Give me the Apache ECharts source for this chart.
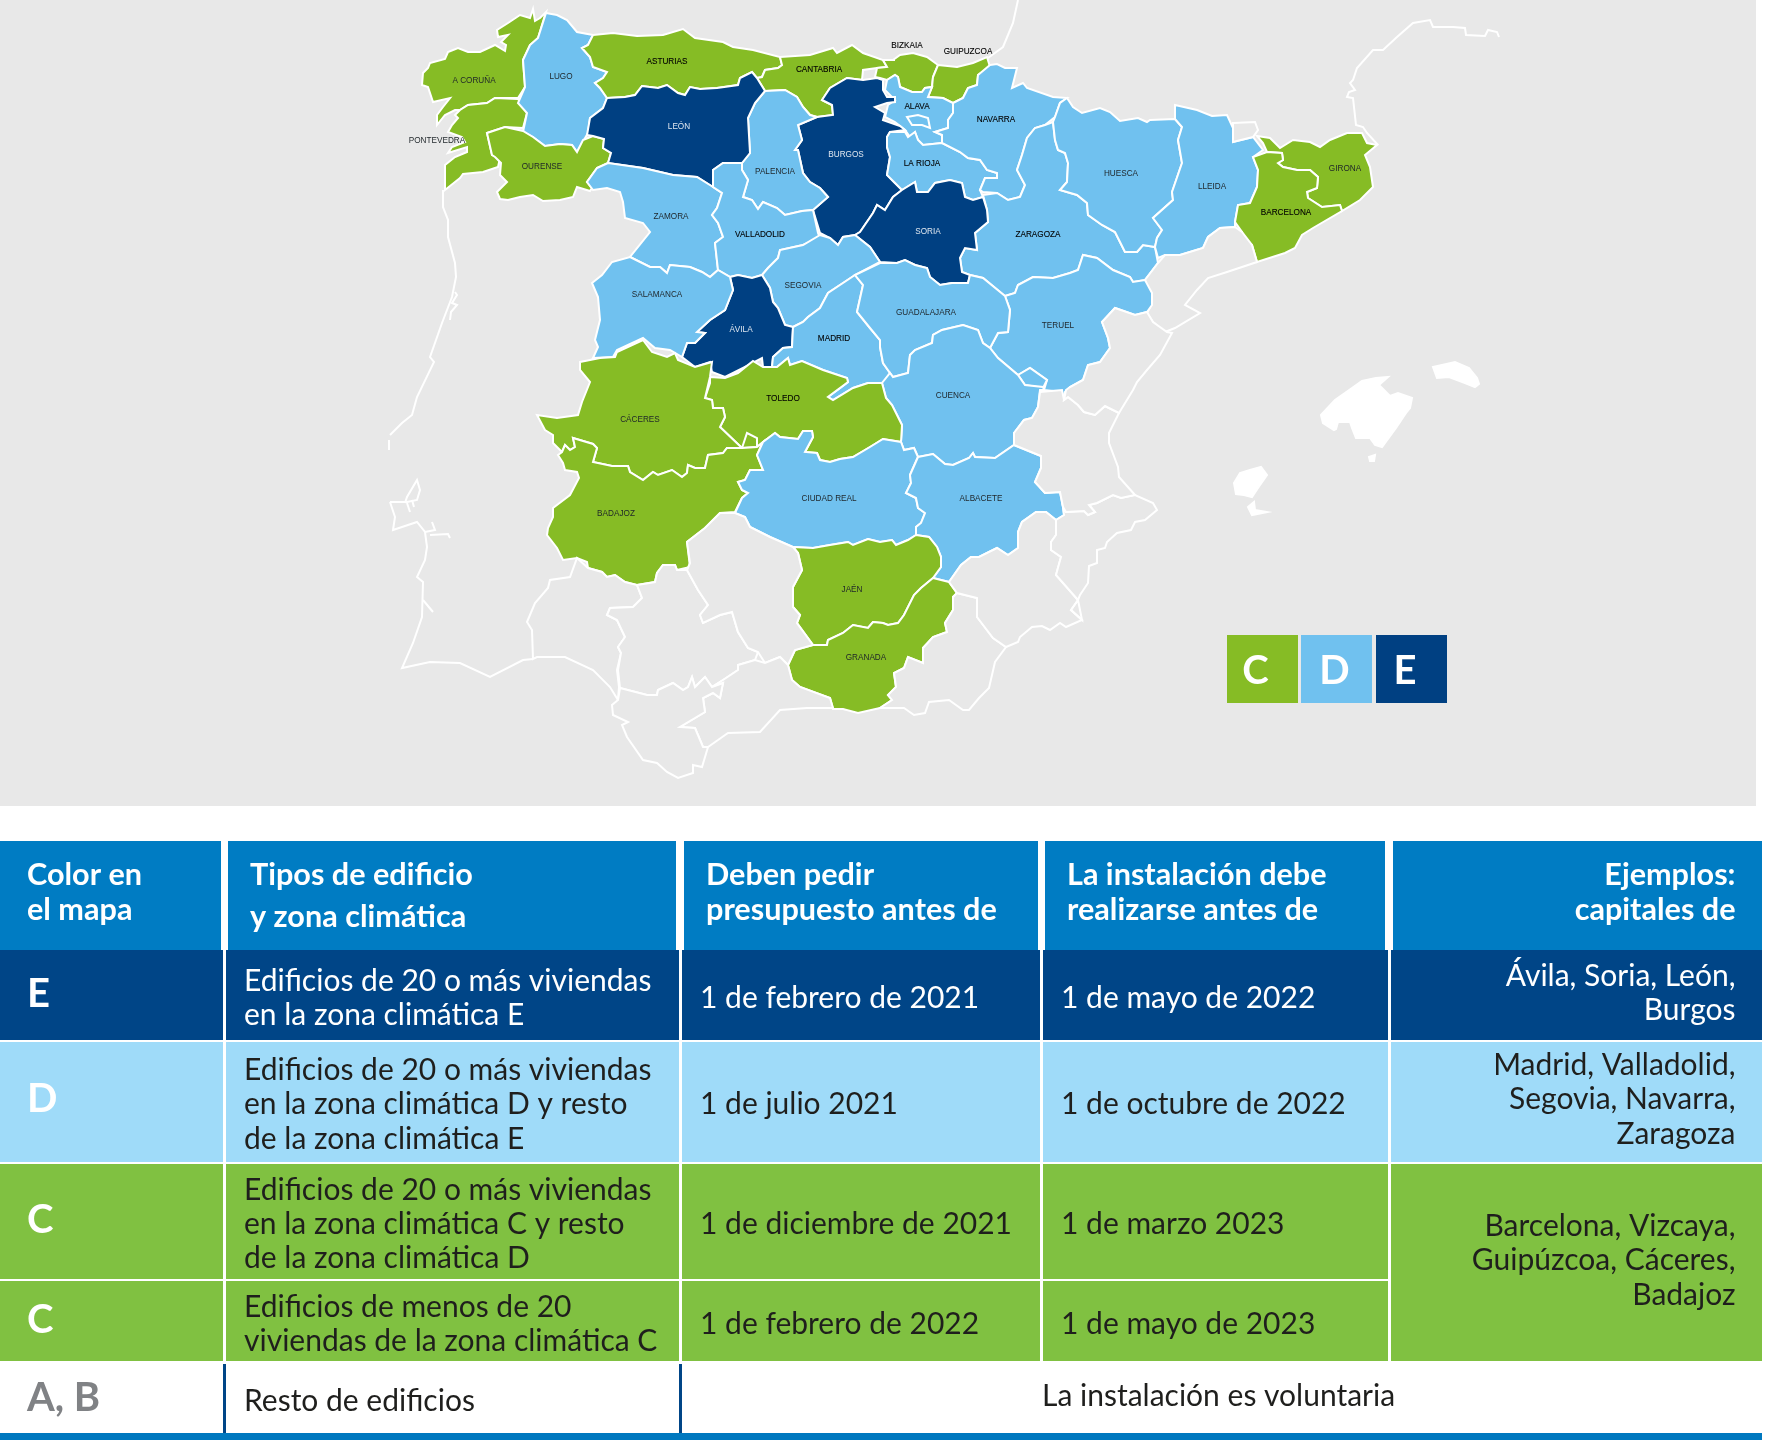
<!DOCTYPE html>
<html><head><meta charset="utf-8">
<style>html,body{margin:0;padding:0;background:#fff}#c{width:1767px;height:1440px}</style>
<script src="https://cdn.jsdelivr.net/npm/echarts@6/dist/echarts.min.js"></script>
</head><body><div id="c"></div>
<script>
// ---- climate zones of the provinces ----
const zoneC = ['A CORUÑA','PONTEVEDRA','OURENSE','ASTURIAS','CANTABRIA','BIZKAIA','GUIPUZCOA','BARCELONA','GIRONA','CÁCERES','BADAJOZ','TOLEDO','JAÉN','GRANADA'];
const zoneD = ['LUGO','ZAMORA','SALAMANCA','PALENCIA','VALLADOLID','SEGOVIA','MADRID','GUADALAJARA','CUENCA','TERUEL','ZARAGOZA','HUESCA','LLEIDA','NAVARRA','ALAVA','LA RIOJA','CIUDAD REAL','ALBACETE'];
const zoneE = ['LEÓN','BURGOS','SORIA','ÁVILA'];
const blackLabels = ['ASTURIAS','CANTABRIA','BIZKAIA','GUIPUZCOA','ALAVA','NAVARRA','LA RIOJA','VALLADOLID','ZARAGOZA','MADRID','TOLEDO','BARCELONA'];
const enclavesC = ['toledoEnclave'];
const enclavesD = ['ademuz','trevino'];
const islands = ['mallorca','menorca','ibiza','formentera','cabrera'];

// ---- map geometry ----
const outlines = {
'A CORUÑA':[533,9,530,18,520,15,508,23,497,30,498,37,508,35,501,42,506,45,505,51,495,45,480,52,468,52,458,48,448,52,445,59,430,63,428,68,423,73,422,85,428,87,433,102,450,98,443,107,437,115,437,125,445,115,455,110,460,110,468,105,487,103,495,98,518,98,525,87,523,60,530,45,538,38,546,12,540,18,535,21],
'PONTEVEDRA':[518,99,495,98,487,103,468,105,460,110,455,115,458,118,452,125,448,132,462,137,465,142,452,147,448,153,467,147,467,152,455,157,445,165,445,190,460,178,463,174,483,172,498,167,500,158,492,155,487,133,505,127,523,128,527,113],
'LUGO':[546,13,557,15,567,20,577,32,593,35,588,45,582,48,590,57,593,67,607,72,603,78,595,83,600,88,607,98,603,108,590,118,588,133,577,152,572,145,560,144,545,146,533,137,523,132,527,113,518,103,525,87,523,60,530,45,538,38],
'OURENSE':[487,133,505,127,523,131,533,137,545,146,560,144,572,145,577,152,583,140,593,136,604,139,603,148,611,153,608,163,597,168,587,182,592,188,590,191,577,187,573,197,560,200,543,201,533,195,520,197,508,200,500,199,497,192,507,182,500,175,501,163,495,157,492,155],
'ASTURIAS':[593,35,613,33,637,36,663,35,683,29,695,38,723,42,733,47,753,50,780,57,782,65,778,68,765,70,762,77,757,78,752,72,740,78,738,85,717,88,700,89,690,87,685,95,678,93,667,85,658,88,642,86,635,95,625,97,607,98,600,88,595,83,603,78,607,72,593,67,590,57,582,48,588,45],
'CANTABRIA':[780,57,810,55,833,48,837,53,852,45,863,53,883,60,887,67,877,68,863,70,862,80,847,78,830,88,822,100,832,105,833,115,817,117,810,115,803,107,797,97,785,90,765,91,757,78,762,77,765,70,778,68,782,65],
'BIZKAIA':[893,60,900,55,913,53,927,57,938,65,933,77,932,87,925,88,922,92,912,92,900,87,898,77,895,75,887,80,880,78,875,77,877,68,887,67,883,60,895,60],
'GUIPUZCOA':[938,65,957,67,973,63,987,57,990,67,978,75,977,85,968,88,963,98,953,103,943,98,928,97,932,87,933,77],
'ALAVA':[887,80,895,75,898,77,900,87,912,92,922,92,925,88,932,87,928,97,943,98,953,103,953,113,948,120,948,128,935,132,942,135,942,143,923,145,918,140,915,132,910,137,905,130,895,122,885,117,888,105,895,100,885,90],
'trevino':[907,117,918,115,928,118,930,128,922,125,912,125],
'BURGOS':[863,80,877,78,883,80,883,90,887,97,895,97,895,102,887,103,875,107,885,113,883,120,900,126,905,130,890,132,887,137,887,147,890,157,887,175,895,183,902,190,893,197,885,210,877,205,873,213,860,232,855,235,843,237,838,245,830,238,820,233,813,210,828,197,820,188,810,182,803,173,798,150,795,150,802,140,798,125,817,117,833,115,832,105,822,100,830,88,847,78],
'LA RIOJA':[890,132,905,132,908,137,915,132,918,140,923,145,942,143,960,152,968,158,980,160,987,170,997,173,997,178,985,178,980,190,983,197,973,200,965,197,962,183,950,180,935,183,928,192,917,192,915,182,902,190,895,183,887,175,890,157,887,147,887,137],
'NAVARRA':[990,65,997,64,1005,68,1017,68,1012,88,1023,83,1027,88,1053,97,1067,98,1060,103,1055,117,1045,125,1035,128,1027,138,1022,155,1017,170,1025,185,1020,197,1008,200,997,193,983,192,980,190,985,178,997,178,997,173,987,170,980,160,968,158,960,152,942,143,942,135,935,132,948,128,948,120,953,113,953,103,963,98,968,88,977,85,978,75],
'ZARAGOZA':[1053,122,1045,125,1035,128,1027,138,1022,155,1017,170,1025,185,1020,197,1008,200,997,193,983,195,987,210,988,222,975,233,977,250,965,248,960,258,962,272,970,275,983,278,1005,296,1015,293,1018,285,1033,277,1053,278,1070,273,1078,270,1083,255,1097,258,1113,270,1130,277,1133,282,1145,280,1158,263,1155,247,1143,245,1137,252,1125,252,1115,232,1102,225,1088,215,1087,203,1077,195,1060,190,1067,182,1068,163,1065,153,1058,150,1055,140],
'HUESCA':[1067,98,1060,103,1055,117,1053,122,1055,140,1058,150,1065,153,1068,163,1067,182,1060,190,1077,195,1087,203,1088,215,1102,225,1115,232,1125,252,1137,252,1143,245,1155,247,1157,238,1162,230,1153,218,1173,200,1172,192,1182,163,1178,140,1182,127,1175,119,1150,120,1147,122,1138,118,1120,121,1110,112,1100,108,1082,113,1073,107],
'LLEIDA':[1175,105,1197,110,1212,116,1227,115,1233,128,1233,142,1253,137,1263,150,1253,157,1258,170,1257,187,1250,203,1238,205,1235,222,1235,227,1220,228,1208,237,1203,248,1180,255,1165,255,1158,258,1155,247,1157,238,1162,230,1153,218,1173,200,1172,192,1182,163,1178,140,1182,127,1175,119],
'andorra':[1233,123,1255,122,1258,130,1253,137,1233,142,1233,128],
'GIRONA':[1257,136,1270,138,1280,148,1293,140,1310,142,1320,147,1330,140,1347,133,1362,133,1367,143,1377,145,1365,155,1370,167,1373,187,1360,200,1342,211,1340,205,1322,207,1308,198,1307,192,1317,188,1318,177,1310,170,1297,170,1283,167,1278,163,1283,160,1282,153,1267,152,1263,143],
'BARCELONA':[1267,152,1282,153,1283,160,1278,163,1283,167,1297,170,1310,170,1318,177,1317,188,1307,192,1308,198,1322,207,1340,205,1342,211,1313,228,1302,235,1295,248,1285,253,1257,262,1252,245,1243,237,1242,232,1235,222,1238,205,1250,203,1257,187,1258,170,1253,157],
'tarragona':[1235,227,1242,232,1252,245,1257,262,1227,272,1208,278,1197,290,1185,305,1200,313,1175,328,1165,332,1153,322,1147,313,1152,303,1145,280,1158,263,1165,255,1180,255,1203,248,1208,237,1220,228],
'TERUEL':[1005,296,1015,293,1018,285,1033,277,1053,278,1070,273,1078,270,1083,255,1097,258,1113,270,1130,277,1133,282,1145,280,1152,293,1152,305,1147,312,1135,315,1115,308,1102,322,1108,338,1110,348,1100,362,1088,365,1083,380,1070,387,1065,392,1064,400,1062,392,1044,390,1047,380,1030,368,1018,375,998,358,990,348,998,333,1008,332,1010,310],
'ademuz':[1018,375,1030,368,1047,380,1043,388,1025,385],
'SORIA':[885,210,893,197,902,190,915,182,917,192,928,192,935,183,950,180,962,183,965,197,973,200,983,197,987,210,988,222,975,233,977,250,965,248,960,258,962,272,970,275,968,283,952,283,940,285,930,277,927,268,915,265,905,260,897,263,880,262,870,247,855,235,860,232,873,213,877,205],
'PALENCIA':[765,91,785,90,797,97,803,107,810,115,817,117,798,125,802,140,795,150,798,150,803,173,810,182,820,188,828,197,813,210,802,211,785,215,777,208,763,202,758,209,752,200,743,197,748,180,742,170,742,163,750,153,748,118,755,103],
'LEÓN':[607,98,625,97,635,95,642,86,658,88,667,85,678,93,685,95,690,87,700,89,717,88,738,85,740,78,752,72,757,78,765,91,755,103,748,118,750,153,742,163,723,163,713,170,713,187,697,177,673,175,643,168,608,163,611,153,603,148,604,139,593,136,587,135,590,118,603,108],
'ZAMORA':[597,168,608,163,643,168,673,175,697,177,713,187,722,193,717,208,712,215,718,223,723,237,715,243,718,270,710,277,702,272,690,267,670,265,667,273,660,267,650,267,630,257,650,232,643,223,625,218,623,202,620,192,607,188,593,190,587,182],
'VALLADOLID':[713,187,713,170,723,163,742,163,742,170,748,180,743,197,752,200,758,209,763,202,777,208,785,215,802,211,813,210,818,233,820,238,803,245,780,250,778,258,768,268,762,275,752,278,738,275,730,277,718,270,715,243,723,237,718,223,712,215,717,208,722,193],
'SEGOVIA':[820,235,830,238,838,245,843,237,855,235,870,247,880,262,855,275,843,283,828,293,820,308,808,317,803,322,793,327,785,325,778,308,773,302,770,288,762,275,768,268,778,258,780,250,803,245],
'ÁVILA':[730,277,738,275,752,278,762,275,770,288,773,302,778,308,785,325,793,327,792,347,783,348,773,357,772,367,763,367,762,358,743,368,725,377,712,372,710,362,695,367,682,357,687,343,695,343,705,333,697,332,710,320,725,310,733,290],
'SALAMANCA':[630,257,650,267,660,267,667,273,670,265,690,267,702,272,710,277,718,270,730,277,733,290,725,310,710,320,697,332,705,333,695,343,687,343,682,357,670,350,655,348,643,338,617,350,613,357,593,358,598,347,595,340,600,320,598,297,592,283,602,275,612,262],
'MADRID':[793,327,803,322,808,317,820,308,828,293,843,283,855,275,863,285,857,312,870,328,880,340,880,347,883,363,890,373,883,383,868,383,853,388,833,400,828,397,848,382,847,378,823,370,802,361,790,365,788,358,777,367,772,367,773,357,783,348,792,347],
'GUADALAJARA':[855,275,880,263,897,263,905,260,915,265,927,268,930,277,940,285,952,283,968,283,970,275,983,278,1005,296,1010,310,1008,332,998,333,990,348,983,343,978,330,963,325,942,330,933,335,932,343,915,350,910,355,908,373,893,377,890,373,883,363,880,347,880,340,870,328,857,312,863,285],
'CUENCA':[890,373,882,383,886,398,892,405,902,425,901,442,904,450,914,448,918,457,933,454,945,464,953,465,969,458,973,453,975,457,995,458,1014,445,1014,433,1024,420,1032,418,1038,407,1040,390,1044,390,1043,387,1025,385,1018,375,998,358,990,348,983,343,978,330,963,325,942,330,933,335,932,343,915,350,910,355,908,373,893,377],
'TOLEDO':[710,377,725,378,738,373,753,361,763,367,772,367,777,367,788,358,790,365,802,361,823,370,847,378,848,382,828,397,833,400,853,388,868,383,882,383,886,398,892,405,902,425,901,442,883,439,870,447,853,457,840,459,830,462,820,460,817,453,805,452,813,437,812,431,803,431,798,439,780,437,775,433,763,442,757,447,742,448,720,427,725,417,723,408,713,408,712,400,705,398,710,383],
'toledoEnclave':[742,448,747,433,757,438,757,447],
'CÁCERES':[580,362,600,358,615,357,617,352,643,340,652,352,667,357,675,353,678,360,695,367,712,362,710,377,705,398,712,400,713,408,723,408,725,417,720,427,742,448,727,448,723,453,708,455,705,468,695,468,688,465,687,473,682,477,672,470,658,475,653,472,643,480,630,472,628,466,612,466,593,462,597,448,593,444,573,438,575,447,570,450,565,445,562,452,553,443,553,435,545,430,537,415,557,418,578,415,582,402,590,382,580,370],
'BADAJOZ':[558,455,562,452,565,445,570,450,575,447,573,438,593,444,597,448,593,462,612,466,628,466,630,472,643,480,653,472,658,475,672,470,682,477,687,473,688,465,695,468,705,468,708,455,723,453,727,448,742,448,757,447,763,442,757,455,763,470,750,470,745,480,738,482,742,490,748,493,742,498,735,512,720,513,705,528,687,542,690,567,677,570,675,565,663,565,657,573,655,582,637,585,625,582,615,575,607,577,602,572,588,568,587,562,577,558,563,560,557,548,547,535,548,528,553,517,553,508,570,495,579,478,577,472,565,470,563,463],
'CIUDAD REAL':[763,442,775,433,780,437,798,439,803,431,812,431,813,437,805,452,817,453,820,460,830,462,840,459,853,457,870,447,883,439,901,442,904,450,914,448,918,457,910,475,911,483,906,493,916,498,918,508,925,513,921,523,916,527,916,535,908,540,896,545,892,540,880,542,868,539,853,545,848,542,830,545,813,548,793,547,770,537,750,527,745,517,735,513,742,498,748,493,742,490,738,482,745,480,750,470,763,470,757,455],
'ALBACETE':[918,457,933,454,945,464,953,465,969,458,973,453,975,457,995,458,1014,445,1041,456,1041,468,1035,482,1045,493,1060,492,1063,507,1064,515,1056,520,1046,512,1036,512,1022,522,1018,532,1018,548,1008,555,997,548,979,557,971,557,961,565,949,582,933,578,941,567,941,557,937,547,929,537,916,535,916,527,921,523,925,513,918,508,916,498,906,493,911,483,910,475],
'JAÉN':[793,547,813,548,830,545,848,542,853,545,868,539,880,542,892,540,896,545,908,540,916,535,929,537,937,547,941,557,941,567,933,578,921,588,914,595,904,615,898,623,888,625,883,623,873,622,868,628,853,625,843,633,828,640,827,645,813,645,797,623,800,615,793,607,793,587,802,570,798,553],
'GRANADA':[933,578,949,582,957,593,953,597,953,610,945,623,947,632,933,637,923,648,923,663,908,657,904,668,894,673,896,687,888,695,892,700,880,708,858,713,843,709,833,709,830,698,800,687,792,680,788,665,795,650,813,645,827,645,828,640,843,633,853,625,868,628,873,622,883,623,888,625,898,623,904,615,914,595,921,588],
'huelva':[577,558,588,568,602,572,607,577,615,575,625,582,637,585,642,598,633,607,610,608,607,615,617,620,625,637,618,647,621,653,617,670,619,687,618,700,610,687,593,670,565,657,537,657,533,659,532,630,527,622,535,603,548,588,550,580,570,577],
'sevilla':[637,585,655,582,657,573,663,565,675,565,677,570,687,570,698,590,708,605,700,615,703,623,720,615,732,612,738,632,748,648,758,652,755,660,738,665,738,670,723,680,712,687,705,677,695,687,692,677,688,687,683,690,673,683,658,690,657,695,647,695,620,688,618,670,621,653,618,647,625,637,617,620,607,615,610,608,633,607,642,598],
'cordoba':[687,570,690,563,687,542,705,528,720,513,735,513,745,517,750,527,770,537,793,547,798,553,802,570,793,587,793,607,800,615,797,623,813,645,795,650,788,665,780,657,765,663,758,652,748,648,738,632,732,612,720,615,703,623,700,615,708,605,698,590],
'malaga':[788,665,792,680,800,687,830,698,833,708,807,708,780,710,760,732,728,733,708,747,703,747,695,728,680,727,705,712,703,698,713,693,720,698,723,683,712,687,723,680,738,670,738,665,755,660,765,663,780,657],
'cadiz':[620,688,647,695,657,695,658,690,673,683,683,690,688,687,692,677,695,687,705,677,712,687,723,683,720,698,713,693,703,698,705,712,680,727,695,728,703,747,708,747,702,767,693,765,693,773,678,778,667,772,657,763,643,760,627,737,622,725,628,722,613,715,612,705,618,700],
'almeria':[957,593,977,598,977,617,993,638,1006,647,995,662,989,688,979,698,969,710,963,710,949,700,929,702,925,713,914,715,904,708,880,708,892,700,888,695,896,687,894,673,904,668,908,657,923,663,923,648,933,637,947,632,945,623,953,610,953,597],
'murcia':[949,582,961,565,971,557,979,557,997,548,1008,555,1018,548,1018,532,1022,522,1036,512,1046,512,1056,520,1056,535,1051,542,1051,550,1061,557,1056,575,1078,600,1071,610,1082,620,1066,627,1060,623,1050,630,1042,626,1032,627,1020,637,1018,642,1006,647,993,638,977,617,977,598,957,593],
'alicante':[1063,507,1066,512,1084,511,1088,515,1095,512,1089,505,1097,503,1113,495,1121,498,1135,495,1153,503,1157,510,1145,520,1135,522,1131,530,1117,533,1107,542,1105,548,1097,550,1097,563,1089,566,1088,583,1080,595,1078,600,1056,575,1061,557,1051,550,1051,542,1056,535,1056,520,1064,515],
'valencia':[1041,456,1014,445,1014,433,1024,420,1032,418,1038,407,1040,392,1062,390,1064,400,1068,397,1078,405,1084,412,1095,415,1105,406,1119,413,1109,433,1109,443,1118,467,1119,477,1135,495,1121,498,1113,495,1097,503,1089,505,1095,512,1088,515,1084,511,1066,512,1063,507,1060,492,1045,493,1035,482,1041,468],
'castellon':[1147,312,1153,322,1167,332,1172,333,1160,355,1147,370,1137,382,1133,390,1119,413,1105,406,1095,415,1084,412,1078,405,1068,397,1064,400,1066,390,1070,387,1083,380,1088,365,1100,362,1110,348,1108,338,1102,322,1115,308,1135,315],
'mallorca':[1321,415,1335,400,1352,388,1362,381,1376,378,1388,377,1379,385,1384,390,1390,396,1398,393,1412,398,1410,408,1406,413,1396,428,1382,447,1375,445,1370,438,1356,438,1352,428,1350,422,1338,422,1336,429,1334,430,1323,423],
'menorca':[1433,367,1442,365,1455,362,1469,368,1477,378,1479,384,1475,387,1465,383,1449,377,1437,378],
'ibiza':[1234,483,1240,473,1250,470,1261,467,1267,475,1258,488,1252,497,1244,495,1236,494],
'formentera':[1248,507,1254,502,1255,510,1267,512,1252,515],
'cabrera':[1369,457,1375,455,1374,461,1370,461]
};
const labelAnchors = {
'A CORUÑA':[474,81],'LUGO':[561,77],'ASTURIAS':[667,62],'CANTABRIA':[819,70],'BIZKAIA':[907,46],'GUIPUZCOA':[968,52],'ALAVA':[917,107],'NAVARRA':[996,120],'LEÓN':[679,127],'BURGOS':[846,155],'LA RIOJA':[922,164],'PONTEVEDRA':[437,141],'OURENSE':[542,167],'PALENCIA':[775,172],'ZAMORA':[671,217],'VALLADOLID':[760,235],'SORIA':[928,232],'ZARAGOZA':[1038,235],'HUESCA':[1121,174],'LLEIDA':[1212,187],'GIRONA':[1345,169],'BARCELONA':[1286,213],'SALAMANCA':[657,295],'SEGOVIA':[803,286],'ÁVILA':[741,330],'MADRID':[834,339],'GUADALAJARA':[926,313],'TERUEL':[1058,326],'CUENCA':[953,396],'TOLEDO':[783,399],'CÁCERES':[640,420],'BADAJOZ':[616,514],'CIUDAD REAL':[829,499],'ALBACETE':[981,499],'JAÉN':[852,590],'GRANADA':[866,658]
};
const coastLines = [
[443,190,443,207,448,220,448,237,455,263,456,277,452,297,442,323,430,357,434,362,417,397,412,415,402,423,390,435],
[389,440,389,450],
[455,292,457,295,452,303,457,305,451,312,450,320],
[390,502,395,517,393,530,417,522,425,532,427,547,425,560,417,577,423,582,422,617,413,643,402,668,430,662,460,663,490,677,523,660,533,659],
[390,502,407,502,417,500,420,490,417,480,407,497,405,503],
[407,503,410,512],[412,500,414,507],
[425,532,435,530,432,522],[430,535,448,534,450,538],
[423,600,433,612],
[1078,600,1071,610,1082,620,1078,600],
[1018,0,1013,23,1003,47,988,58],
[1378,145,1367,133,1363,127,1356,125,1353,98,1347,97,1349,92,1355,90,1350,83,1353,80,1357,68,1373,50,1383,50,1397,37,1413,23,1430,20,1433,27,1453,27,1465,28,1466,35,1485,36,1488,30,1497,32,1499,37]
];

// ---- table content ----
const headerLines = [['Color en','el mapa'],['Tipos de edificio','y zona climática'],['Deben pedir','presupuesto antes de'],['La instalación debe','realizarse antes de'],['Ejemplos:','capitales de']];
const rowLetters = ['E','D','C','C','A, B'];
const buildingTypes = [
['Edificios de 20 o más viviendas','en la zona climática E'],
['Edificios de 20 o más viviendas','en la zona climática D y resto','de la zona climática E'],
['Edificios de 20 o más viviendas','en la zona climática C y resto','de la zona climática D'],
['Edificios de menos de 20','viviendas de la zona climática C'],
['Resto de edificios']];
const quoteDates = ['1 de febrero de 2021','1 de julio 2021','1 de diciembre de 2021','1 de febrero de 2022'];
const installDates = ['1 de mayo de 2022','1 de octubre de 2022','1 de marzo 2023','1 de mayo de 2023'];
const voluntaryNote = 'La instalación es voluntaria';
const examples = [['Ávila, Soria, León,','Burgos'],['Madrid, Valladolid,','Segovia, Navarra,','Zaragoza'],['Barcelona, Vizcaya,','Guipúzcoa, Cáceres,','Badajoz']];
const legendLetters = ['C','D','E'];

// ---- colours & layout ----
const mapGreen='#86BC25', mapSky='#70C1EF', mapNavy='#004082', seaGrey='#E8E8E8';
const headBlue='#007CC3', rowNavy='#004587', rowSky='#9FDBF9', rowGreen='#80C141', ink='#1F1F1D';
const FONT='Lato, "Open Sans", sans-serif';
const BODY=30, HEAD=30.6, LETTER=40;

const toLatLng = f => { const r=[]; for(let i=0;i<f.length;i+=2) r.push([f[i],-f[i+1]]); return r; };
const features = Object.keys(outlines).map(name=>{
  const ring=toLatLng(outlines[name]); ring.push(ring[0]);
  const props={name}; if(labelAnchors[name]) props.cp=[labelAnchors[name][0],-labelAnchors[name][1]];
  return {type:'Feature',properties:props,geometry:{type:'Polygon',coordinates:[ring]}};
});
echarts.registerMap('espana',{type:'FeatureCollection',features});

const labelFor = n => {
  const black=blackLabels.includes(n);
  return {show:true,fontFamily:'"Liberation Sans",Arial,sans-serif',fontSize:8.2,
    color: zoneE.includes(n)?'#dfe7f0':(black?'#000':'#1e2529'),
    textBorderColor: black?'#000':'transparent',textBorderWidth: black?0.1:0};
};
const BORDER=2;
const item=(n,c,l)=>({name:n,value:1,itemStyle:{areaColor:c,borderColor:'#fff',borderWidth:BORDER},label:l?labelFor(n):{show:false}});
const mapData=[
  ...zoneC.map(n=>item(n,mapGreen,true)),...zoneD.map(n=>item(n,mapSky,true)),...zoneE.map(n=>item(n,mapNavy,true)),
  ...enclavesC.map(n=>item(n,mapGreen,false)),...enclavesD.map(n=>item(n,mapSky,false)),...islands.map(n=>item(n,'#fff',false))
];
const coastData=coastLines.map(f=>({coords:toLatLng(f)}));

// table geometry
const bodyCols=[[0,223],[226,679],[682,1040],[1043,1388],[1391,1762]];
const headCols=[[0,221],[228,676],[684,1038],[1045,1385],[1393,1762]];
const rowsY=[[950,1040],[1042,1162],[1164,1279],[1281,1361]];
const rowFill=[rowNavy,rowSky,rowGreen,rowGreen];
const rowInk=['#fff',ink,ink,ink];
const headY=[[875,910],[875,917],[875,910],[875,910],[875,910]];
const headX=[27,250,706,1067,1735.5];
const letterY=[994,1099,1220,1320,1398];
const typeY=[[981,1015],[1070,1104,1139],[1190,1224,1258],[1307,1341],[1401]];
const dateY=[998,1104,1224,1324];
const exampleY=[[976,1010],[1065,1099,1134],[1226,1260,1295]];

const g=[];
const rect=(x,y,w,h,fill,z)=>g.push({type:'rect',silent:true,z:z||1,shape:{x,y,width:w,height:h},style:{fill}});
const txt=(s,x,y,size,fill,weight,align)=>g.push({type:'text',silent:true,z:5,style:{text:s,x,y,fill,font:`${weight||'normal'} ${size}px ${FONT}`,textAlign:align||'left',textVerticalAlign:'middle'}});
// header
headCols.forEach((c,i)=>{rect(c[0],841,c[1]-c[0],109,headBlue);
  headerLines[i].forEach((s,k)=>txt(s,headX[i],headY[i][k],HEAD,'#fff','bold',i===4?'right':'left'));});
// body rows
rowsY.forEach((r,i)=>{bodyCols.slice(0,4).forEach(c=>rect(c[0],r[0],c[1]-c[0],r[1]-r[0],rowFill[i]));
  txt(rowLetters[i],27,letterY[i],LETTER,'#fff','bold');
  buildingTypes[i].forEach((s,k)=>txt(s,244,typeY[i][k],BODY,rowInk[i]));
  txt(quoteDates[i],700,dateY[i],BODY,rowInk[i]);
  txt(installDates[i],1061,dateY[i],BODY,rowInk[i]);
});
rect(1391,950,371,90,rowNavy);rect(1391,1042,371,120,rowSky);rect(1391,1164,371,197,rowGreen);
examples.forEach((l,i)=>l.forEach((s,k)=>txt(s,1735.5,exampleY[i][k],BODY,rowInk[i],'normal','right')));
// A, B row
txt(rowLetters[4],27,letterY[4],LETTER,'#808285','bold');
txt(buildingTypes[4][0],244,typeY[4][0],BODY,ink);
txt(voluntaryNote,1042,1396,BODY,ink);
rect(223,1364,3,76,'#004587');rect(679,1364,3,76,'#004587');
rect(0,1433,1762,7,'#0078BF');
// legend
[[1227,mapGreen,1255.5],[1301,mapSky,1334.5],[1376,mapNavy,1405]].forEach((l,i)=>{
  rect(l[0],635,71,68,l[1]);
  g.push({type:'text',silent:true,z:5,style:{text:legendLetters[i],x:l[2],y:671,fill:'#fff',font:`bold ${LETTER}px ${FONT}`,textAlign:'center',textVerticalAlign:'middle'}});
});
// sea
const seaRect={type:'rect',silent:true,z:-1,shape:{x:0,y:0,width:1756,height:806},style:{fill:seaGrey}};

const layout={left:0,top:0,width:1767,height:1440,aspectScale:1,boundingCoords:[[0,0],[1767,-1440]]};
const chart=echarts.init(document.getElementById('c'));
chart.setOption({
  animation:false,
  backgroundColor:'#fff',
  graphic:{elements:[seaRect,...g]},
  geo:Object.assign({map:'espana',silent:true,roam:false,z:0,itemStyle:{areaColor:'transparent',borderWidth:0},label:{show:false},emphasis:{disabled:true}},layout),
  series:[
    Object.assign({type:'map',map:'espana',silent:true,roam:false,z:1,data:mapData,
      itemStyle:{areaColor:seaGrey,borderColor:'#fff',borderWidth:BORDER},label:{show:false},emphasis:{disabled:true},select:{disabled:true}},layout),
    {type:'lines',coordinateSystem:'geo',geoIndex:0,polyline:true,silent:true,z:2,data:coastData,lineStyle:{color:'#fff',width:BORDER,opacity:1},effect:{show:false}}
  ]
});
</script></body></html>
